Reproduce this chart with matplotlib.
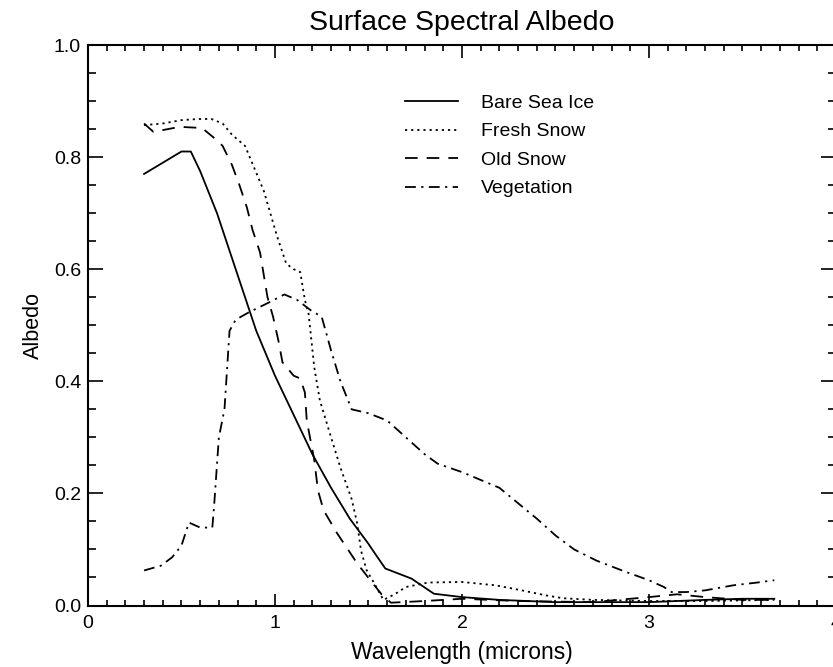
import matplotlib
matplotlib.use("Agg")
import matplotlib.pyplot as plt
from matplotlib.ticker import MultipleLocator

plt.rcParams["font.family"] = ["Liberation Sans", "DejaVu Sans"]

# wavelength (microns) / albedo
ice_x = [0.30, 0.40, 0.50, 0.55, 0.60, 0.69, 0.80, 0.90, 1.00, 1.10, 1.20,
         1.30, 1.40, 1.50, 1.53, 1.59, 1.73, 1.85, 2.00, 2.20, 2.50, 3.00,
         3.30, 3.50, 3.67]
ice_y = [0.77, 0.79, 0.81, 0.81, 0.775, 0.70, 0.59, 0.49, 0.41, 0.34, 0.27,
         0.21, 0.155, 0.11, 0.095, 0.066, 0.048, 0.021, 0.015, 0.01, 0.006,
         0.006, 0.01, 0.012, 0.012]

fresh_x = [0.30, 0.40, 0.50, 0.59, 0.66, 0.72, 0.77, 0.84, 0.94, 1.01, 1.06,
           1.10, 1.135, 1.16, 1.18, 1.21, 1.24, 1.30, 1.35, 1.41, 1.44, 1.46,
           1.49, 1.53, 1.58, 1.64, 1.70, 1.82, 2.00, 2.18, 2.32, 2.45, 2.54,
           2.70, 3.00, 3.30, 3.67]
fresh_y = [0.857, 0.86, 0.866, 0.868, 0.868, 0.86, 0.84, 0.82, 0.74, 0.66,
           0.61, 0.60, 0.595, 0.545, 0.52, 0.425, 0.366, 0.30, 0.246, 0.19,
           0.146, 0.098, 0.063, 0.04, 0.01, 0.02, 0.033, 0.041, 0.042, 0.036,
           0.027, 0.018, 0.013, 0.01, 0.008, 0.008, 0.01]

old_x = [0.30, 0.35, 0.49, 0.61, 0.69, 0.72, 0.77, 0.81, 0.85, 0.88, 0.92,
         0.94, 0.96, 0.99, 1.02, 1.04, 1.10, 1.135, 1.16, 1.17, 1.21, 1.23,
         1.26, 1.33, 1.44, 1.51, 1.57, 1.62, 1.80, 2.00, 2.30, 2.70, 3.00,
         3.15, 3.30, 3.50, 3.67]
old_y = [0.86, 0.845, 0.854, 0.852, 0.83, 0.82, 0.786, 0.75, 0.71, 0.67,
         0.63, 0.59, 0.55, 0.515, 0.47, 0.434, 0.41, 0.405, 0.38, 0.33, 0.26,
         0.205, 0.17, 0.13, 0.075, 0.045, 0.02, 0.005, 0.008, 0.012, 0.008,
         0.006, 0.015, 0.02, 0.015, 0.01, 0.01]

veg_x = [0.30, 0.39, 0.45, 0.50, 0.54, 0.60, 0.665, 0.675, 0.70, 0.73, 0.757,
         0.79, 0.86, 0.97, 1.05, 1.12, 1.19, 1.25, 1.30, 1.35, 1.41, 1.50,
         1.60, 1.70, 1.80, 1.87, 2.00, 2.20, 2.40, 2.50, 2.60, 2.72, 2.86,
         3.00, 3.08, 3.12, 3.20, 3.30, 3.45, 3.58, 3.67]
veg_y = [0.0625, 0.071, 0.086, 0.107, 0.148, 0.139, 0.139, 0.18, 0.30, 0.35,
         0.49, 0.51, 0.523, 0.541, 0.555, 0.545, 0.527, 0.515, 0.455, 0.40,
         0.35, 0.343, 0.33, 0.30, 0.27, 0.253, 0.238, 0.21, 0.155, 0.125,
         0.10, 0.08, 0.062, 0.045, 0.033, 0.024, 0.024, 0.027, 0.036, 0.041,
         0.045]

fig = plt.figure(figsize=(8.33, 6.67), dpi=100)
ax = fig.add_axes([0.1056, 0.0922, 0.898, 0.8403])

lw = 1.3
ax.plot(ice_x, ice_y, color="black", linewidth=lw, label="Bare Sea Ice")
ax.plot(fresh_x, fresh_y, color="black", linewidth=lw,
        linestyle=(0, (1.2, 2.2)), label="Fresh Snow")
ax.plot(old_x, old_y, color="black", linewidth=lw,
        linestyle=(0, (7, 5)), label="Old Snow")
ax.plot(veg_x, veg_y, color="black", linewidth=lw,
        linestyle=(0, (6, 3, 1.2, 3)), label="Vegetation")

ax.set_xlim(0, 4)
ax.set_ylim(0, 1)

ax.xaxis.set_major_locator(MultipleLocator(1))
ax.xaxis.set_minor_locator(MultipleLocator(0.1))
ax.yaxis.set_major_locator(MultipleLocator(0.2))
ax.yaxis.set_minor_locator(MultipleLocator(0.05))
ax.xaxis.set_major_formatter(plt.FormatStrFormatter("%d"))
ax.yaxis.set_major_formatter(plt.FormatStrFormatter("%.1f"))

ax.tick_params(which="both", direction="in", top=True, right=True,
               width=1.2, labelsize=14)
ax.tick_params(axis="x", which="major", length=9, pad=7)
ax.tick_params(axis="x", which="minor", length=4.5)
ax.tick_params(axis="y", which="major", length=11, pad=5)
ax.tick_params(axis="y", which="minor", length=6)
for side in ax.spines.values():
    side.set_linewidth(1.5)

ax.set_title("Surface Spectral Albedo", fontsize=20.5, pad=11)
ax.set_xlabel("Wavelength (microns)", fontsize=16.5, labelpad=6)
ax.set_ylabel("Albedo", fontsize=15.5, labelpad=7)

ax.legend(loc="upper left", bbox_to_anchor=(0.424, 0.912), frameon=False,
          borderpad=0, borderaxespad=0, fontsize=14, handlelength=2.7,
          handletextpad=1.2, labelspacing=0.56)

fig.savefig("out.png", dpi=100)
